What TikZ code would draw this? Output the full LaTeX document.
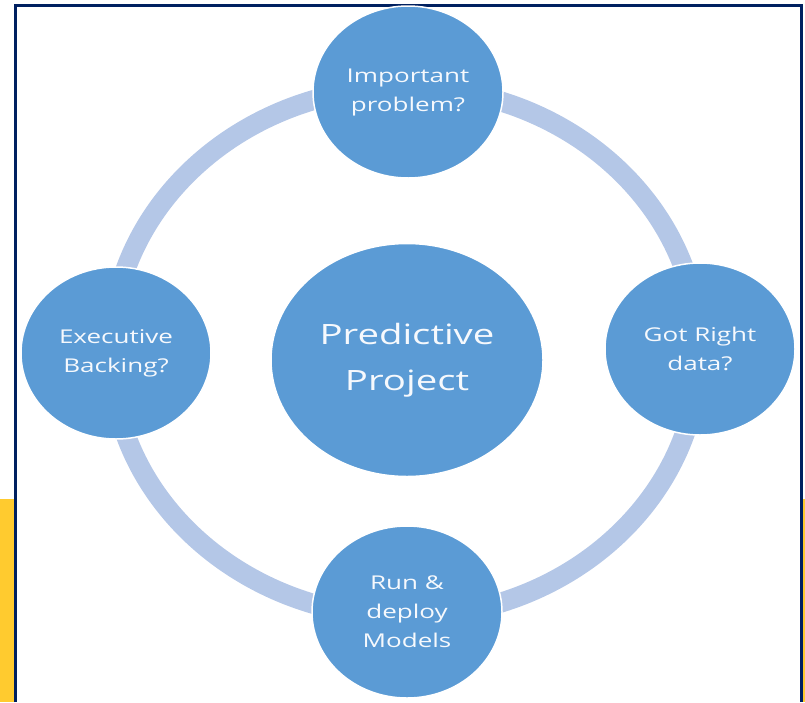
\documentclass[tikz,border=0pt]{standalone}
\usepackage{fontspec}
\newfontfamily\stepfont[FakeStretch=1.37]{Open Sans}
\usetikzlibrary{shapes.geometric}

\begin{document}
\begin{tikzpicture}[x=1pt,y=-1pt]

\definecolor{step_fill}{RGB}{91,155,213}
\definecolor{step_text}{RGB}{246,249,253}
\definecolor{ring_draw}{RGB}{180,199,231}
\definecolor{frame_draw}{RGB}{0,32,96}
\definecolor{band_fill}{RGB}{255,203,47}
\tikzstyle{step_node_style}=[ellipse,fill=step_fill,draw=white,text=step_text,line width = 1.5pt,inner sep=0pt,align=center,font=\stepfont\fontsize{19}{29}\selectfont]
\tikzstyle{step_small}=[step_node_style,minimum width=190,minimum height=172]
\tikzstyle{step_big}=[step_node_style,minimum width=272,minimum height=233,font=\stepfont\fontsize{28}{46}\selectfont]

\useasboundingbox (0,0) rectangle (805,702);

% yellow bands and slide frame
\fill[band_fill] (0,499) rectangle (15,702);
\fill[band_fill] (803,499) rectangle (805,702);
\draw[black!25,line width=1pt] (15,4.2) -- (802,4.2);
\draw[frame_draw,line width=2.8pt] (15.8,702) -- (15.8,5.8) -- (801.8,5.8) -- (801.8,702);

% ring behind the steps
\draw[ring_draw,line width=20pt] (405,352) ellipse [x radius=294,y radius=265];

\node(project) at (407,360) [step_big] {Predictive\\Project};

\node(problem) at (408,92) [step_small] {Important\\problem?};

\node(data) at (700,349) [step_small] {Got Right\\data?};

\node(models) at (407,612) [step_small] {Run \&\\deploy\\Models};

\node(backing) at (116,353) [step_small] {Executive\\Backing?};

\end{tikzpicture}
\end{document}
